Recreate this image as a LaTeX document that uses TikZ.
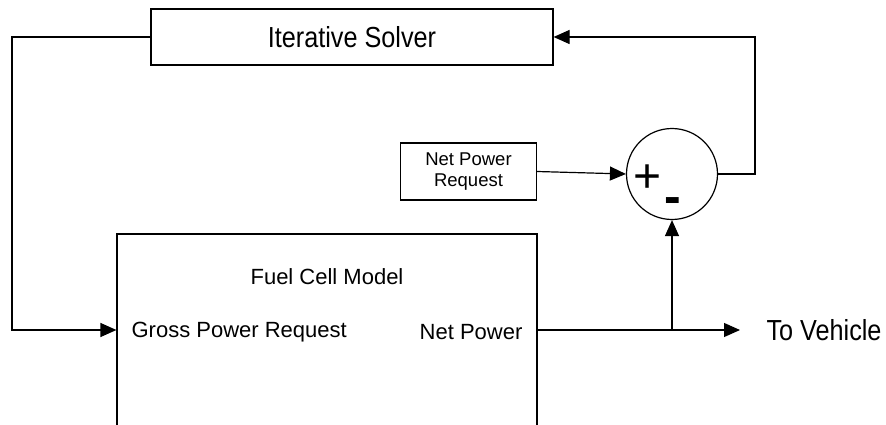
\documentclass[tikz,border=0pt]{standalone}
\usepackage{fontspec}
\usepackage{graphicx}
\setmainfont{Liberation Sans}
\usetikzlibrary{arrows.meta}
\begin{document}
\begin{tikzpicture}[x=1pt,y=-1pt, line width=1.2pt,
  >={Triangle[length=16pt,width=14pt]},
  box/.style={draw, line width=1.2pt, inner sep=0pt},
  txt/.style={inner sep=0pt, font=\fontsize{22}{26}\selectfont}]
\useasboundingbox (0,0) rectangle (886,425);
\clip (0,0) rectangle (886,425);
% blocks
\node[box, minimum width=402pt, minimum height=56pt] (solver) at (352,37)
  {\fontsize{29}{32}\selectfont\scalebox{0.87}[1]{Iterative Solver}};
\node[box, minimum width=136pt, minimum height=57pt, align=center,
  font=\fontsize{18.5}{21}\selectfont] (npr) at (468.5,171.5) {Net Power\\Request};
\node[box, circle, minimum size=91pt] (sum) at (672,174) {};
\node[inner sep=0pt, font=\fontsize{48}{48}\selectfont] (plus) at (648,179) {+};
\node[inner sep=0pt, font=\fontsize{50}{50}\selectfont\bfseries] (minus) at (673,206) {-};
\node[box, minimum width=420pt, minimum height=240pt] (fc) at (327,354) {};
% texts inside fuel cell model
\node[txt] (fct) at (327,277) {Fuel Cell Model};
\node[txt, anchor=west] (gross) at (131,332) {Gross Power Request};
\node[txt, anchor=east] (net) at (523,332) {Net Power};
\node[inner sep=0pt, font=\fontsize{29}{32}\selectfont] (veh) at (824,330) {\scalebox{0.87}[1]{To Vehicle}};
% coordinates
\coordinate (lt) at (12,330);
\coordinate (rt) at (755,37);
\coordinate (out) at (fc.east |- 0,330);
\coordinate (jn) at (sum.south |- out);
\coordinate (thk) at (558,330);
\coordinate (tip) at (740,330);
% connectors
\draw[->] (solver.west) -| (lt) -- (lt -| fc.west);
\draw[->] (sum.east) -| (rt) -- (solver.east);
\draw[->] (npr.east) -- (sum.west);
\draw[->] (out) -- (tip);
\draw[line width=2.6pt] (thk) -- (jn);
\draw[->] (jn) -- (sum.south);
\end{tikzpicture}
\end{document}
